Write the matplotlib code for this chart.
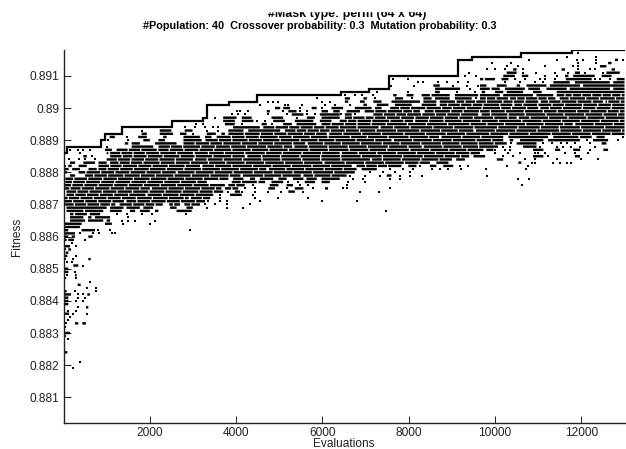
import matplotlib
matplotlib.use("Agg")
import matplotlib.pyplot as plt
from matplotlib.patches import Rectangle

plt.rcParams['font.family'] = ['Liberation Sans', 'DejaVu Sans']

title_line_1 = "#Mask type: perm (64 x 64)"
title_line_2 = "#Population: 40  Crossover probability: 0.3  Mutation probability: 0.3"
x_label = "Evaluations"
y_label = "Fitness"
x_ticks = [2000, 4000, 6000, 8000, 10000, 12000]
y_ticks = [0.881, 0.882, 0.883, 0.884, 0.885, 0.886, 0.887, 0.888, 0.889, 0.89, 0.891]
y_tick_labels = ["0.881", "0.882", "0.883", "0.884", "0.885", "0.886", "0.887", "0.888", "0.889", "0.89", "0.891"]

# best-so-far step line
best_eval = [0, 90, 861, 962, 1363, 2506, 3240, 3333, 3835, 4491, 6423, 7071, 7550, 9143, 9473, 10593, 11790, 13000]
best_fit = [0.8886, 0.8888, 0.8890, 0.8892, 0.8894, 0.8896, 0.8897, 0.8901, 0.8902, 0.8904, 0.8905, 0.8906,
            0.8910, 0.8915, 0.8916, 0.8917, 0.8918, 0.8918]

# Individuals are read row by row (fitness is quantised): an int is one visible dot,
# a tuple is a visible stretch (from, to) of merged dots at that fitness.
upper_rows = [
    (0.8917, [11930]),
    (0.8916, [11660, 12350]),
    (0.8915, [10790, 11440, 11890, 12040, 12340, 12970, (12780, 12850)]),
    (0.8914, [9940, 10380, 11930, 12350, (12620, 12700)]),
    (0.8913, [10270, 10540, 11155, 11810, 11930, (12430, 12580)]),
    (0.8912, [9820, 10000, 10230, 10650, 11930, 12200, 12310, (10420, 10500), (11540, 11620), (12700, 12780)]),
    (0.8911, [9400, 10650, 10960, 11390, 11700, 12080, 12510, (10270, 10500), (11850, 11970), (12580, 12890)]),
    (0.8910, [9300, 9550, 11155, 11425, (10190, 10460), (10620, 10770), (11620, 11700), (11810, 12310), (12470, 12700)]),
    (0.8909, [7640, 7990, 10460, 10690, 11040, 11155, 11390, 12310, 12430, 12660, (9650, 9730), (9770, 10000),
              (10150, 10310), (11640, 12240), (12820, 13000)]),
    (0.8908, [8220, 8340, 8680, 8880, 9150, 9380, 10230, 10580, 10920, 11120, (11350, 11730), (11850, 12660), (12740, 13000)]),
    (0.8907, [7600, 8120, 9030, 9340, 9610, (8570, 8720), (9650, 9800), (10040, 10270), (10500, 10580), (10730, 11190),
              (11270, 11970), (12040, 13000)]),
    (0.8906, [9420, (8610, 9190), (9650, 9880), (9920, 10110), (10230, 10690), (10770, 11040), (11190, 11660), (11730, 12660), (12740, 13000)]),
    (0.8905, [7260, 7990, 9110, 9530, (8610, 8720), (9690, 9770), (10000, 10190), (10270, 10650), (10880, 11080), (11430, 13000)]),
    (0.8904, [6520, 6750, 6910, 7180, (7640, 7720), (7950, 8110), (8300, 8490), (8530, 8950), (9070, 9610), (9650, 10110),
              (10190, 10880), (10960, 11350), (11430, 13000)]),
    (0.8903, [5865, 7220, 8070, 9570, (6520, 6640), (6950, 7030), (7680, 7870), (8340, 8530), (8610, 8950), (9070, 9460),
              (9650, 10300), (10350, 11400), (11500, 13000)]),
    (0.8902, [4745, 4860, 4980, 5980, 6170, (6520, 6600), (6870, 6980), (7180, 7370), (7600, 8260), (8340, 8640), (8720, 9070),
              (9110, 11000), (11060, 12500), (12560, 13000)]),
    (0.8901, [4550, 5130, 5210, 5520, 6060, 6290, 6640, (6950, 7030), (7260, 7530), (7680, 8070), (8300, 8640), (8720, 10400),
              (10450, 13000)]),
    (0.8900, [5480, 5980, (4900, 5020), (5090, 5250), (5750, 5865), (6210, 6480), (6750, 7140), (7220, 7370), (7570, 11000), (11050, 13000)]),
    (0.8899, [4010, 4090, 4280, 5090, 5480, 5640, (4710, 4780), (5210, 5400), (5980, 6130), (6250, 6400), (6560, 6870), (6980, 8260), (8370, 13000)]),
    (0.8898, [3900, 4050, 4200, 4745, 5170, 5640, 5825, 6440, 6750, (5290, 5560), (5940, 6400), (6520, 6680), (7180, 9610), (9690, 13000)]),
    (0.8897, [3510, 5400, (3700, 4010), (4130, 4360), (4820, 5090), (5640, 5825), (5980, 6400), (6520, 10500), (10550, 13000)]),
    (0.8896, [4480, 4670, (3700, 3970), (4130, 4400), (4860, 5130), (5360, 5790), (5940, 6210), (6400, 8100), (8150, 13000)]),
    (0.8895, [3080, 3240, 4130, 4820, (3740, 3970), (4590, 4710), (5090, 5290), (5400, 5860), (5980, 11800), (11860, 13000)]),
    (0.8894, [1500, 1580, 2810, 3050, 3280, 3470, 3580, (3930, 4550), (4630, 7300), (7350, 13000)]),
    (0.8893, [1820, 3320, 3590, (2230, 2500), (2810, 2990), (3820, 4170), (4280, 5020), (5130, 9500), (9560, 13000)]),
    (0.8892, [1110, 3010, (1810, 1930), (2230, 2540), (2700, 2850), (3320, 3530), (3660, 3740), (3820, 6100), (6160, 13000)]),
    (0.8891, [1460, (1070, 1190), (1730, 1930), (2310, 2390), (2780, 3160), (3280, 3430), (3550, 8700), (8760, 10190),
              (10310, 11230), (11350, 11930), (11970, 12240), (12350, 12540), 12970]),
]

band_rows = [
    (0.8890, [1040, 1500, 12120, 12850, (1850, 2000), (2200, 2350), (2780, 3200), (3290, 7600), (7660, 10190), (10340, 10420),
              (10580, 11120), (11230, 11970), (12270, 12620)]),
    (0.8889, [10380, 11120, 11310, 11540, 11660, 11850, 12200, (1420, 1500), (1580, 1770), (2120, 2620), (2780, 5600), (5660, 10270),
              (10500, 10960), (12470, 12580)]),
    (0.8888, [1000, 10190, 10340, 11040, 11430, 11580, 11770, 11970, 12310, (1580, 2080), (2200, 5300), (5350, 8300), (8350, 10070), (10650, 10960)]),
    (0.8887, [150, 340, 460, 610, 10000, 10230, 10340, 12200, (960, 1120), (1230, 2160), (2200, 8000), (8040, 9730), (9800, 9960),
              (10880, 11120), (11390, 11510), (11810, 11970), (12510, 12620)]),
    (0.8886, [80, 380, 10000, 10300, 10580, 10920, 11000, 11155, 11620, 11850, 12160, (1000, 1040), (1080, 3000), (3040, 6400), (6450, 9650)]),
    (0.8885, [650, 10190, 10420, 11230, (460, 540), (1080, 4200), (4260, 9400), (9500, 9770), (10880, 11120), (11850, 11970)]),
    (0.8884, [120, 350, 500, 730, 10690, 10920, 11430, 12000, 12390, (1000, 3000), (3050, 7100), (7150, 9000), (9100, 9300), (10040, 10190)]),
    (0.8883, [10850, 10920, 11350, 11500, 11670, 11770, (150, 270), (460, 730), (810, 1000), (1080, 6000), (6050, 8490), (8640, 8920), (10540, 10610)]),
    (0.8882, [35, 8260, 9190, 9380, 10270, 10770, (110, 190), (350, 540), (810, 3163), (3220, 6680), (6790, 7260), (7290, 7830),
              (7990, 8180), (8490, 8640), (8800, 9030)]),
    (0.8881, [7560, 7870, 8100, 8530, 8720, 8920, 9220, 9800, 10720, (0, 120), (200, 380), (580, 770), (810, 4700), (4760, 6790), (6910, 7260)]),
    (0.8880, [7100, 7410, 7680, 8030, (0, 80), (350, 2600), (2650, 6750)]),
    (0.8879, [6640, 6990, 7330, 7800, 8030, 8300, 9805, (150, 270), (500, 4100), (4160, 5500), (5560, 6560), (7490, 7600)]),
    (0.8878, [6720, 6950, 7570, 7800, 10790, 10530, (40, 3820), (3930, 4170), (4320, 4440), (4550, 4860), (4980, 5170), (5320, 5560), (5630, 5870), (5980, 6400)]),
    (0.8877, [5210, 5440, 6600, 6990, (40, 3320), (3900, 4480), (4520, 4670), (4820, 5090), (5590, 5830), (5980, 6170)]),
    (0.8876, [4400, 5480, 5670, 6560, 10620, (0, 3740), (3820, 4200), (4780, 4980), (5170, 5320)]),
    (0.8875, [4200, 4440, 5170, 5790, 6480, 6560, 7570, (0, 2000), (2050, 3660), (3740, 4050), (4745, 4900), (5360, 5560), (6060, 6130)]),
    (0.8874, [3820, 4130, 4440, 4745, 5050, 5560, 6870, 7300, (70, 3700), (3970, 4090), (5210, 5360)]),
    (0.8873, [3630, 4400, (70, 1900), (1950, 3470), (3860, 4130)]),
    (0.8872, [3630, 4440, 4980, 5670, (0, 2900), (2950, 3400)]),
    (0.8871, [3360, 3630, 3780, 4550, 5980, 6790, (30, 1400), (1460, 3280)]),
    (0.8870, [3280, 3510, 3780, 4320, (0, 1200), (1300, 2300), (2450, 2700), (2800, 3163)]),
    (0.8869, [3320, 3780, 4170, (70, 1000), (1080, 1390), (1460, 1770), (1850, 2080), (2470, 2620), (2850, 3000)]),
    (0.8868, [7465, (70, 460), (500, 920), (1080, 1350), (1540, 1660), (1770, 2000), (2120, 2200), (2620, 2970)]),
    (0.8867, [1230, 1460, 1810, 2040, 2850, (150, 230), (270, 540), (610, 850)]),
    (0.8866, [1500, (150, 460), (570, 650), (730, 1080)]),
    (0.8865, [1350, 1500, 1660, 2120, (150, 500), (570, 920), (1000, 1080)]),
    (0.8864, [1390, 2000, (0, 420), (960, 1120)]),
    (0.8863, [(0, 380)]),
    (0.8862, [810, 1080, 2930, (0, 110), (420, 730)]),
]

cloud_rows = [
    (0.8861, [382, 675, 830, 1116, 1193, (35, 266)]),
    (0.8860, [(0, 112), (189, 266), (575, 675)]),
    (0.8859, [498, (0, 73), (112, 243)]),
    (0.8858, [189, (0, 35)]),
    (0.8857, [290, (35, 150)]),
    (0.8856, [35, (112, 174)]),
    (0.8855, [(50, 112)]),
    (0.8854, [290, (0, 90)]),
    (0.8853, [35, 228, (575, 629)]),
    (0.8852, [73, 205]),
    (0.8851, [0, 459, (228, 344)]),
    (0.8850, [(35, 112)]),
    (0.8849, [266, (35, 112)]),
    (0.8848, [73, (266, 305)]),
    (0.8847, [0, 35, 290]),
    (0.8846, [614]),
    (0.8845, [15, (328, 398)]),
    (0.8844, [0, 552, 745]),
    (0.8843, [(0, 73), 266, 745]),
    (0.8842, [(0, 174), 344, 459, (552, 614)]),
    (0.8841, [(0, 112), 344, 498]),
    (0.8840, [(0, 112), 290, 459]),
    (0.8839, [(0, 112)]),
    (0.8838, [15, 344, (521, 575)]),
    (0.8837, [112, 290]),
    (0.8836, [212, 552, (0, 130)]),
    (0.8835, [140]),
    (0.8834, [100]),
    (0.8833, [60, (266, 344), (436, 521)]),
    (0.8832, [35]),
    (0.8830, [(35, 150)]),
    (0.8829, [35]),
    (0.8828, [15, 112]),
    (0.8827, [0]),
    (0.8825, [0]),
    (0.8824, [(15, 90)]),
    (0.8821, [382]),
    (0.8819, [228]),
    (0.8804, [0]),
]

# White flecks inside the merged stretches (estimated evaluation of each fleck).
fleck_rows = [
    (0.8904, [11620, 11790, 12010, 12240, 12480, 12700, 12920]),
    (0.8903, [9800, 10020, 10500, 10700, 10990, 11210, 11720, 12100, 12420, 12790]),
    (0.8902, [9300, 9550, 9800, 10180, 10420, 10690, 11240, 11530, 11900, 12250, 12610, 12900]),
    (0.8901, [8900, 9200, 9470, 9720, 10110, 10640, 10990, 11320, 11610, 12030, 12380, 12700]),
    (0.8900, [7790, 8040, 8400, 8760, 9010, 9330, 9700, 10130, 10380, 10730, 11260, 11560, 12020, 12340, 12690]),
    (0.8899, [7210, 7500, 7860, 8090, 8590, 8970, 9260, 9640, 9890, 10240, 10680, 11120, 11440, 11890, 12200, 12600, 12880]),
    (0.8898, [7410, 7700, 7950, 8300, 8620, 8880, 9200, 9900, 10300, 10700, 11180, 11600, 12080, 12500, 12840]),
    (0.8897, [6700, 6990, 7200, 7480, 7810, 8140, 8480, 8820, 9160, 9500, 9970, 10300, 10810, 11240, 11690, 12130, 12550]),
    (0.8896, [6580, 6800, 7140, 7560, 7890, 8460, 8820, 9240, 9680, 10080, 10620, 11090, 11540, 11980, 12440, 12880]),
    (0.8895, [6200, 6510, 6800, 7130, 7480, 7970, 8410, 8900, 9420, 9810, 10220, 10710, 11140, 11590, 12300, 12740]),
    (0.8894, [4900, 5220, 5480, 5790, 6060, 6390, 6800, 7650, 8030, 8560, 9040, 9510, 10060, 10530, 11050, 11490, 11980, 12540]),
    (0.8893, [5390, 5640, 5930, 6180, 6530, 6860, 7240, 7720, 8260, 8740, 9150, 10010, 10480, 10970, 11500, 12020, 12470, 12930]),
    (0.8892, [4190, 4560, 4870, 5180, 5560, 5840, 6470, 6910, 7370, 7890, 8390, 8870, 9320, 9880, 10320, 10790, 11300, 11770, 12230, 12690]),
    (0.8891, [3890, 4210, 4540, 4980, 5300, 5720, 6130, 6650, 7040, 7520, 8010, 8460, 9230, 9670]),
    (0.8890, [3590, 3900, 4280, 4610, 5020, 5480, 5900, 6290, 6780, 7210, 8090, 8550, 9010, 9560, 9920]),
    (0.8889, [3050, 3390, 3690, 4120, 4500, 4870, 5310, 6030, 6440, 6880, 7390, 7800, 8280, 8760, 9190, 9610, 9980]),
    (0.8888, [2480, 2760, 3180, 3520, 3870, 4240, 4710, 5090, 5670, 6130, 6600, 7040, 7530, 7980, 8790, 9240, 9620]),
    (0.8887, [1500, 1790, 2450, 2790, 3140, 3480, 3900, 4350, 4760, 5210, 5690, 6140, 6620, 7080, 7490, 8490, 8930, 9350]),
    (0.8886, [1330, 1610, 1900, 2230, 2620, 3360, 3730, 4200, 4680, 5070, 5530, 5980, 6830, 7260, 7720, 8180, 8620, 9080, 9420]),
    (0.8885, [1360, 1610, 1940, 2310, 2700, 3050, 3460, 3900, 4590, 5030, 5480, 5960, 6420, 6900, 7390, 7860, 8340, 8820, 9200]),
    (0.8884, [1250, 1560, 1880, 2210, 2590, 3330, 3700, 4150, 4600, 5040, 5520, 5960, 6430, 7390, 7830, 8280, 8700]),
    (0.8883, [1290, 1550, 1840, 2240, 2590, 2940, 3360, 3760, 4210, 4660, 5120, 5560, 6530, 6980, 7440, 7900, 8240]),
    (0.8882, [1070, 1360, 1720, 2050, 2430, 2820, 3500, 3900, 4380, 4830, 5280, 5760, 6190, 7000, 7510]),
    (0.8881, [1010, 1300, 1620, 1990, 2380, 2790, 3200, 3640, 4080, 4520, 5150, 5590, 6040, 6480]),
    (0.8880, [520, 860, 1190, 1540, 1910, 2270, 3050, 3490, 3930, 4400, 4860, 5320, 5770, 6260]),
    (0.8879, [700, 1020, 1400, 1780, 2130, 2560, 2960, 3390, 3840, 4640, 5060, 5800, 6200]),
    (0.8878, [240, 560, 910, 1250, 1620, 2010, 2400, 2810, 3240, 3600]),
    (0.8877, [210, 510, 860, 1190, 1560, 1930, 2320, 2710, 3090, 4120]),
    (0.8876, [190, 470, 800, 1160, 1500, 1850, 2240, 2620, 3000, 3380, 3990]),
    (0.8875, [150, 410, 720, 1080, 1420, 1770, 2420, 2800, 3180, 3520, 3900]),
    (0.8874, [310, 590, 900, 1240, 1600, 1980, 2350, 2750, 3140, 3470]),
    (0.8873, [260, 530, 830, 1160, 1510, 2290, 2680, 3050]),
    (0.8872, [110, 380, 690, 1010, 1340, 1690, 2060, 2430, 2800, 3220]),
    (0.8871, [210, 490, 790, 1120, 1700, 2020, 2380, 2710, 3060]),
    (0.8870, [250, 540, 840, 1090, 1600, 1890, 2120, 2550, 2950]),
]

fig = plt.figure(figsize=(6.26, 4.49), dpi=100)
W, H = 626, 449
ax = fig.add_axes([63.5 / W, 1 - 423 / H, (624.5 - 63.5) / W, (423 - 50.2) / H])

INK = "#000000"
FLECK_WIDTH = 30
flecks = dict(fleck_rows)


def split_run(start, end, cuts):
    pieces = []
    cur = start
    for c in sorted(cuts):
        if cur < c < end:
            pieces.append((cur, c - FLECK_WIDTH / 2))
            cur = c + FLECK_WIDTH / 2
    pieces.append((cur, end))
    return pieces


for rows in (upper_rows, band_rows, cloud_rows):
    for fitness, items in rows:
        for it in items:
            if isinstance(it, tuple):
                for a, b in split_run(it[0], it[1], flecks.get(fitness, [])):
                    ax.hlines(fitness, a, b, color=INK, lw=1.75, capstyle='butt', zorder=2, antialiased=True, snap=False)
            else:
                ax.plot([it], [fitness], ls='none', marker='s', ms=1.6, mew=0, color=INK, zorder=2)

ax.step(best_eval, best_fit, where='post', color=INK, lw=1.6, zorder=3, solid_joinstyle='miter')

ax.set_xlim(0, 13000)
ax.set_ylim(0.8802, 0.8918)
for s in ('top', 'right'):
    ax.spines[s].set_visible(False)
for s in ('left', 'bottom'):
    ax.spines[s].set_linewidth(1.0)
    ax.spines[s].set_color("#222222")
ax.set_xticks(x_ticks)
ax.set_yticks(y_ticks)
ax.set_yticklabels(y_tick_labels)
ax.tick_params(axis='both', direction='in', length=5, width=0.7, labelsize=8.6, colors="#222222", pad=3)
ax.set_xlabel(x_label, fontsize=8.6, color="#222222", labelpad=-0.6)
ax.set_ylabel(y_label, fontsize=8.6, color="#222222", labelpad=5)

fig.text(347 / W, 1 - 16.7 / H, title_line_1, ha='center', va='baseline', fontsize=8.9, fontweight='bold')
fig.text(319.5 / W, 1 - 29 / H, title_line_2, ha='center', va='baseline', fontsize=7.85, fontweight='bold')
# the reference crops the top of its first title line
fig.add_artist(Rectangle((0, 1 - 10.5 / H), 1, 10.5 / H, transform=fig.transFigure, color='white', zorder=10))

fig.savefig("out.png", dpi=100)
